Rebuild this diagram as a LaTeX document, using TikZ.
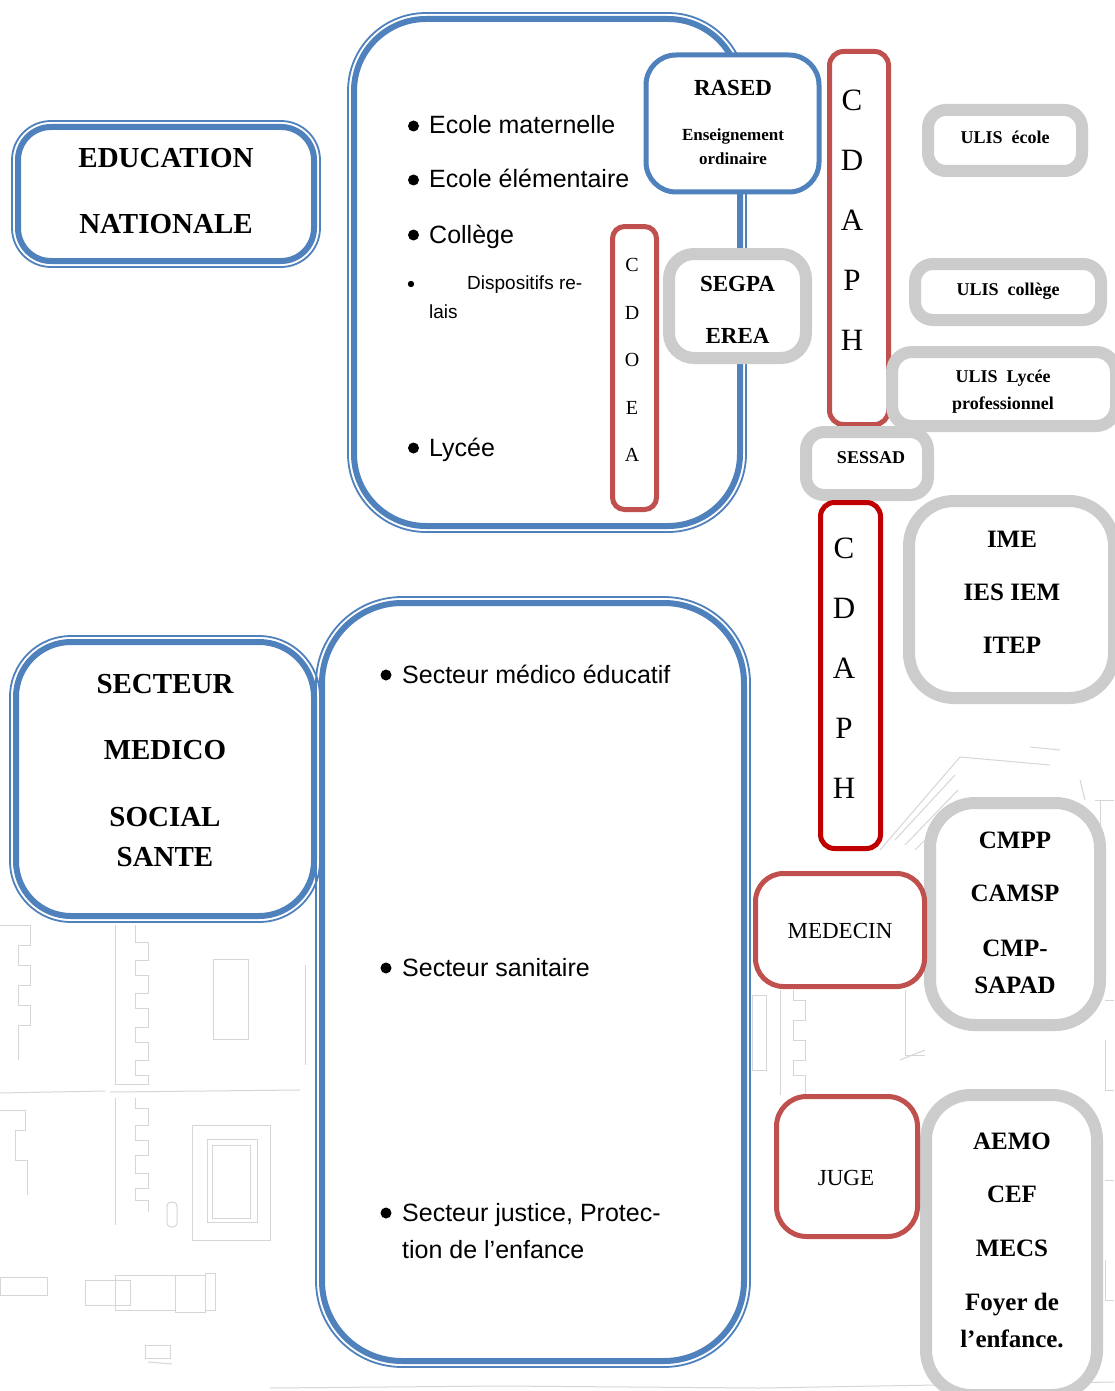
\documentclass[tikz,border=0pt]{standalone}
\usepackage{fontspec}
\setmainfont{Liberation Serif}
\newfontfamily\arialf{Liberation Sans}
\usetikzlibrary{calc}
\definecolor{eblue}{RGB}{79,129,189}
\definecolor{ered}{RGB}{192,80,77}
\definecolor{edarkred}{RGB}{192,0,0}
\definecolor{egray}{RGB}{204,204,204}
\definecolor{sketch}{RGB}{214,214,214}
\begin{document}
\begin{tikzpicture}[x=1pt,y=-1pt,
  shp/.style={rectangle, fill=white, inner sep=0pt, outer sep=0pt},
  bluebox/.style={shp, draw=eblue, line width=6pt},
  blueouter/.style={draw=eblue, line width=1.8pt},
  rasedbox/.style={shp, draw=eblue, line width=5pt},
  graybox/.style={shp, draw=egray, line width=12pt},
  redbox/.style={shp, draw=ered, line width=5pt},
  darkredbox/.style={shp, draw=edarkred, line width=5pt},
  big/.style={font={\bfseries\fontsize{29}{66}\selectfont}, align=center, inner sep=0pt},
  mid/.style={font={\bfseries\fontsize{25}{53}\selectfont}, align=center, inner sep=0pt},
  sml/.style={font={\bfseries\fontsize{18}{27}\selectfont}, align=center, inner sep=0pt},
  plain/.style={font={\fontsize{23}{28}\selectfont}, align=center, inner sep=0pt},
  sans/.style={font={\arialf\fontsize{25}{30}\selectfont}, anchor=base west, inner sep=0pt},
  sanssm/.style={font={\arialf\fontsize{19}{24}\selectfont}, anchor=base west, inner sep=0pt},
  bul/.style={fill=black},
  sk/.style={draw=sketch, line width=1pt},
]
\useasboundingbox (0,0) rectangle (1114,1391);
\fill[white] (0,0) rectangle (1114,1391);

% ---------- faint background sketch ----------
\draw[sk] (213,959) rectangle (248,1039);
\draw[sk] (115,925) -- (115,1084) -- (148,1084) -- (148,1075) -- (135,1075) -- (135,1060) -- (148,1060) -- (148,1042) -- (135,1042) -- (135,1027) -- (148,1027) -- (148,1008) -- (135,1008) -- (135,993) -- (148,993) -- (148,975) -- (135,975) -- (135,960) -- (148,960) -- (148,942) -- (135,942) -- (135,925);
\draw[sk] (0,1093) -- (105,1091);
\draw[sk] (110,1092) -- (300,1090);
\draw[sk] (115,1098) -- (115,1225);
\draw[sk] (135,1098) -- (135,1108) -- (148,1108) -- (148,1125) -- (135,1125) -- (135,1140) -- (148,1140) -- (148,1155) -- (135,1155) -- (135,1173) -- (148,1173) -- (148,1188) -- (135,1188) -- (135,1200) -- (148,1200) -- (148,1212);
\draw[sk] (192,1125) rectangle (270,1240);
\draw[sk] (207,1139) rectangle (257,1222);
\draw[sk] (212,1145) rectangle (250,1218);
\draw[sk, rounded corners=4pt] (167,1202) rectangle (177,1227);
\draw[sk] (0,925) -- (30,925) -- (30,945) -- (18,945) -- (18,965) -- (30,965) -- (30,985) -- (18,985) -- (18,1005) -- (30,1005) -- (30,1025) -- (18,1025) -- (18,1060);
\draw[sk] (0,1110) -- (25,1110) -- (25,1130) -- (15,1130) -- (15,1160) -- (27,1160) -- (27,1195);
\draw[sk] (305,965) -- (305,1065);
\draw[sk] (0,1277) rectangle (47,1295);
\draw[sk] (85,1280) rectangle (130,1305);
\draw[sk] (115,1275) rectangle (175,1310);
\draw[sk] (175,1275) rectangle (205,1312);
\draw[sk] (205,1273) rectangle (215,1310);
\draw[sk] (145,1345) rectangle (170,1358);
\draw[sk] (148,1362) -- (172,1364);
\draw[sk] (270,1388) -- (500,1386) -- (760,1388) -- (1114,1382);
% right side
\draw[sk] (880,850) -- (960,757) -- (1050,765);
\draw[sk] (895,840) -- (955,775);
\draw[sk] (905,845) -- (958,790);
\draw[sk] (915,850) -- (960,805);
\draw[sk] (1030,747) -- (1060,750);
\draw[sk] (1080,780) -- (1085,800);
\draw[sk] (1095,800) -- (1114,800);
\draw[sk] (1100,800) -- (1100,860);
\draw[sk] (780,990) -- (780,1095);
\draw[sk] (793,990) -- (793,1000) -- (805,1000) -- (805,1020) -- (793,1020) -- (793,1040) -- (805,1040) -- (805,1060) -- (793,1060) -- (793,1075) -- (805,1075) -- (805,1095);
\draw[sk] (905,990) -- (905,1055) -- (925,1055);
\draw[sk] (900,1060) -- (925,1050);
\draw[sk] (752,995) rectangle (766,1070);
\draw[sk] (1105,1000) -- (1114,1000);
\draw[sk] (1105,1040) -- (1105,1090) -- (1114,1090);
\draw[sk] (1105,1180) -- (1114,1180);
\draw[sk] (1105,1260) -- (1105,1300) -- (1114,1300);

% ---------- EDUCATION NATIONALE ----------
\node[bluebox, rounded corners=33pt, minimum width=296pt, minimum height=134pt] (en) at (166,194) {};
\draw[blueouter, rounded corners=39pt] ($(en.north west)+(-6,-6)$) rectangle ($(en.south east)+(6,6)$);
\node[big] (enT) at (166,191) {EDUCATION\\NATIONALE};

% ---------- upper big box ----------
\draw[blueouter, rounded corners=78pt] (348,13) rectangle (746,532);
\node[bluebox, rounded corners=72pt, minimum width=386pt, minimum height=507pt] (ecole) at (547,272.5) {};
\fill[bul] (413.5,126) circle (5.5);
\node[sans] (b1) at (429,134) {Ecole maternelle};
\fill[bul] (413.5,180) circle (5.5);
\node[sans] (b2) at (429,188) {Ecole élémentaire};
\fill[bul] (413.5,235) circle (5.5);
\node[sans] (b3) at (429,243) {Collège};
\fill[bul] (411,284) circle (3.2);
\node[sanssm] (b4a) at (467,289) {Dispositifs re-};
\node[sanssm] (b4b) at (429,318) {lais};
\fill[bul] (413.5,448) circle (5.5);
\node[sans] (b5) at (429,456) {Lycée};

\node[redbox, rounded corners=12pt, minimum width=44pt, minimum height=283pt] (cdoea) at (634.5,368) {};
\node[font={\fontsize{20}{47.5}\selectfont}, align=center, inner sep=0pt] (cdoeaT) at (632,360) {C\\D\\O\\E\\A};

\node[rasedbox, rounded corners=30pt, minimum width=173pt, minimum height=137pt] (rased) at (732.5,123.5) {};
\node[font={\bfseries\fontsize{23}{28}\selectfont}, inner sep=0pt] (rasedT) at (733,88) {RASED};
\node[font={\bfseries\fontsize{17}{24}\selectfont}, align=center, inner sep=0pt] (rasedS) at (733,147) {Enseignement\\ordinaire};

\node[graybox, rounded corners=25pt, minimum width=137pt, minimum height=104pt] (segpa) at (737.5,306) {};
\node[font={\bfseries\fontsize{23}{52}\selectfont}, align=center, inner sep=0pt] (segpaT) at (737.5,310) {SEGPA\\EREA};

% ---------- CDAPH 1 and ULIS ----------
\node[redbox, rounded corners=14pt, minimum width=59pt, minimum height=373pt] (cdaph1) at (859,238) {};
\node[font={\fontsize{31}{60}\selectfont}, align=center, inner sep=0pt] (cdaph1T) at (852,220) {C\\D\\A\\P\\H};

\node[graybox, rounded corners=18pt, minimum width=154pt, minimum height=61pt] (ulis1) at (1005,140.5) {};
\node[sml] (ulis1T) at (1005,137) {ULIS\ \ école};
\node[graybox, rounded corners=18pt, minimum width=186pt, minimum height=56pt] (ulis2) at (1008,292) {};
\node[sml] (ulis2T) at (1008,291) {ULIS\ \ collège};
\node[graybox, rounded corners=20pt, minimum width=224pt, minimum height=74pt] (ulis3) at (1004,389) {};
\node[sml] (ulis3T) at (1003,392) {ULIS\ \ Lycée\\professionnel};

\node[graybox, rounded corners=18pt, minimum width=122pt, minimum height=63pt] (sessad) at (867,463.5) {};
\node[sml] (sessadT) at (871,458) {SESSAD};

% ---------- CDAPH 2 and right column ----------
\node[darkredbox, rounded corners=14pt, minimum width=60pt, minimum height=346pt] (cdaph2) at (850.5,675.5) {};
\node[font={\fontsize{31}{60}\selectfont}, align=center, inner sep=0pt] (cdaph2T) at (844,668) {C\\D\\A\\P\\H};

\node[graybox, rounded corners=45pt, minimum width=205pt, minimum height=197pt] (ime) at (1011.5,599.5) {};
\node[mid] (imeT) at (1012,592) {IME\\IES IEM\\ITEP};

\node[graybox, rounded corners=45pt, minimum width=170pt, minimum height=222pt] (cmpp) at (1015,914) {};
\node[font={\bfseries\fontsize{25}{37}\selectfont}, align=center, inner sep=0pt] (cmppT) at (1015,912.5) {CMPP\\[16pt]CAMSP\\[18pt]CMP-\\SAPAD};

\node[redbox, rounded corners=28pt, minimum width=169pt, minimum height=113pt] (medecin) at (840,930) {};
\node[plain] (medecinT) at (840,931) {MEDECIN};

\node[graybox, rounded corners=45pt, minimum width=171pt, minimum height=300pt] (aemo) at (1011.5,1245) {};
\node[font={\bfseries\fontsize{25}{37}\selectfont}, align=center, inner sep=0pt] (aemoT) at (1012,1240) {AEMO\\[16pt]CEF\\[17pt]MECS\\[17pt]Foyer de\\l’enfance.};

\node[redbox, rounded corners=30pt, minimum width=141pt, minimum height=140pt] (juge) at (847,1166.5) {};
\node[plain] (jugeT) at (846,1178) {JUGE};

% ---------- SECTEUR MEDICO SOCIAL SANTE ----------
\node[bluebox, rounded corners=55pt, minimum width=298pt, minimum height=274pt] (sms) at (165,779) {};
\draw[blueouter, rounded corners=61pt] ($(sms.north west)+(-6,-6)$) rectangle ($(sms.south east)+(6,6)$);
\node[font={\bfseries\fontsize{29}{40}\selectfont}, align=center, inner sep=0pt] (smsT) at (165,770.5) {SECTEUR\\[26pt]MEDICO\\[27pt]SOCIAL\\SANTE};

% ---------- lower big box ----------
\draw[blueouter, rounded corners=86pt] (316,597) rectangle (750,1367);
\node[bluebox, rounded corners=80pt, minimum width=422pt, minimum height=758pt] (secteurs) at (533,982) {};
\fill[bul] (386,675) circle (5.5);
\node[sans] (s1) at (402,683) {Secteur médico éducatif};
\fill[bul] (386,968) circle (5.5);
\node[sans] (s2) at (402,976) {Secteur sanitaire};
\fill[bul] (386,1213) circle (5.5);
\node[sans] (s3) at (402,1221) {Secteur justice, Protec-};
\node[sans] (s3b) at (402,1258) {tion de l’enfance};
\end{tikzpicture}
\end{document}
